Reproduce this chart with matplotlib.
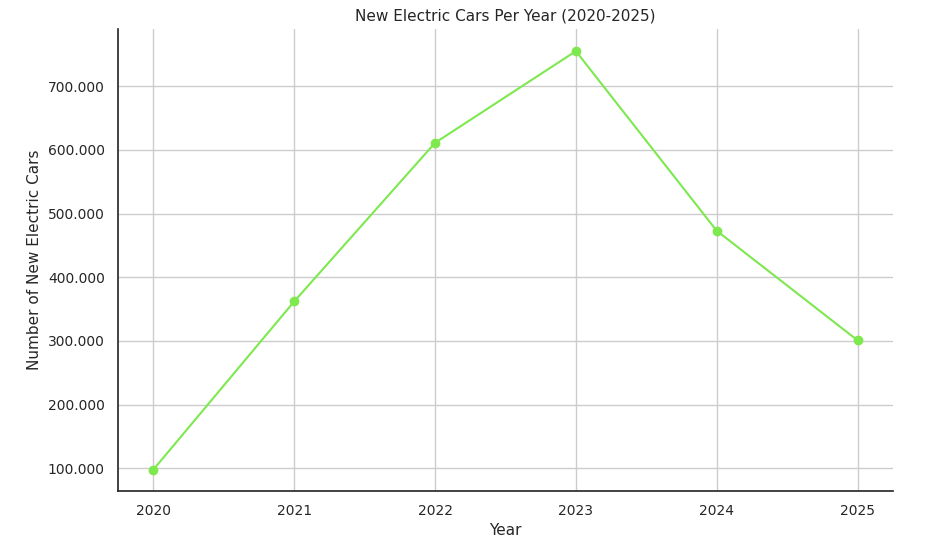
import matplotlib
matplotlib.use('Agg')
import matplotlib.pyplot as plt
import seaborn as sns
from matplotlib.ticker import FuncFormatter

years = [2020, 2021, 2022, 2023, 2024, 2025]
new_cars = [98000, 362000, 611000, 755000, 473000, 301000]

sns.set_theme(style='whitegrid')
plt.rcParams['font.family'] = ['DejaVu Sans']

fig, ax = plt.subplots(figsize=(9.3, 5.44), dpi=100)
fig.subplots_adjust(left=0.127, right=0.96, top=0.947, bottom=0.098)

ax.plot(years, new_cars, color='#7ee84f', marker='o', markersize=6, linewidth=1.5)

ax.set_title('New Electric Cars Per Year (2020-2025)', fontsize=11)
ax.set_xlabel('Year', fontsize=11, labelpad=4)
ax.set_ylabel('Number of New Electric Cars', fontsize=11)
ax.set_xticks(years)
ax.yaxis.set_major_formatter(FuncFormatter(lambda v, p: f'{int(v):,}'.replace(',', '.')))
ax.set_ylim(65000, 790000)
ax.tick_params(labelsize=10)

sns.despine(ax=ax)
for s in ['left', 'bottom']:
    ax.spines[s].set_color('#222222')
    ax.spines[s].set_linewidth(1.2)

fig.savefig('out.png')
